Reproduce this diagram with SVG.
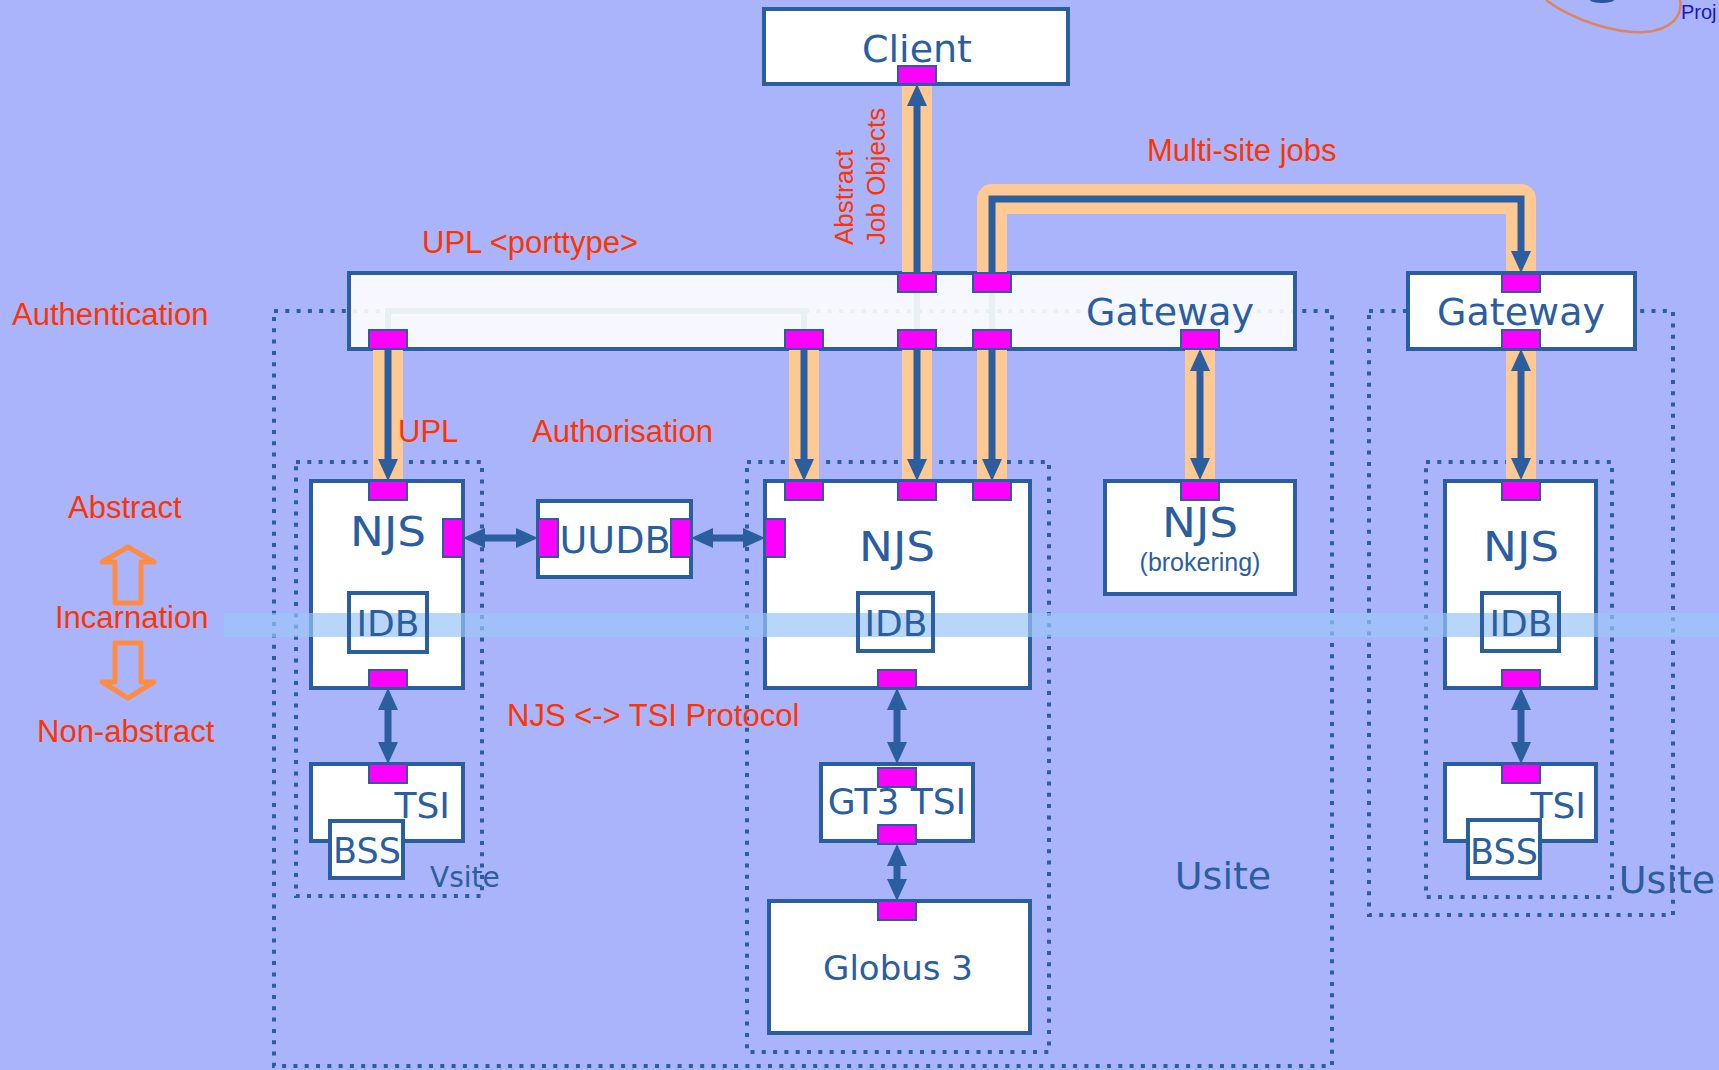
<svg xmlns="http://www.w3.org/2000/svg" width="1719" height="1070" viewBox="0 0 1719 1070">
<style>
.box{fill:#fff;stroke:#2b5e9f;stroke-width:4}
.port{fill:#ff00ff;stroke:#2b5e9f;stroke-width:2}
.band{fill:none;stroke:#ffc993;stroke-width:30;stroke-linejoin:round}
.conn{fill:none;stroke:#2b5e9f;stroke-width:7}
.dot{fill:none;stroke:#2b5e9f;stroke-width:4;stroke-dasharray:4 7.3}
.lbl{fill:#ff3300;font-family:"Liberation Sans",Arial,sans-serif;font-size:31px}
.rot{font-size:26px}
.t{fill:#2b5e9f;font-family:"DejaVu Sans",Verdana,sans-serif;text-anchor:middle}
.hollow{fill:none;stroke:#ff8c42;stroke-width:5;stroke-linejoin:round}
</style>
<defs>
<marker id="ah" viewBox="0 0 22 20" refX="7" refY="10" markerWidth="22" markerHeight="20" markerUnits="userSpaceOnUse" orient="auto-start-reverse">
<path d="M0,0 L22,10 L0,20 z" fill="#2b5e9f"/>
</marker>
</defs>
<rect width="1719" height="1070" fill="#aab4fb"/>

<!-- top right decoration -->
<path d="M1546,0 C1575,22 1620,34 1645,32 C1672,30 1683,15 1680,0" fill="none" stroke="#e0845a" stroke-width="2.5"/>
<ellipse cx="1602" cy="0" rx="12" ry="3" fill="#3050a0"/>
<text x="1681" y="19" font-family="Liberation Sans,Arial,sans-serif" font-size="20" fill="#1616c8">Proj</text>

<!-- dotted site boxes -->
<g id="usite-left"><rect class="dot" x="274" y="311" width="1058" height="755"/><text class="t" x="1223" y="889" font-size="38">Usite</text></g>
<g id="vsite-left"><rect class="dot" x="296" y="462" width="186" height="434"/><text class="t" x="430" y="887" font-size="28" style="text-anchor:start">Vsite</text></g>
<g id="vsite-mid"><rect class="dot" x="747" y="462" width="302" height="590"/></g>
<g id="usite-right"><rect class="dot" x="1369" y="311" width="304" height="604"/><text class="t" x="1667" y="893" font-size="38">Usite</text></g>
<g id="vsite-right"><rect class="dot" x="1426" y="462" width="186" height="435"/></g>

<!-- hidden connectors behind gateway -->
<g id="behind">
<path d="M388,349 V311 H804 V349" fill="none" stroke="#2b5e9f" stroke-width="6"/>
<path d="M917,273 V349 M992,273 V349" fill="none" stroke="#2b5e9f" stroke-width="6"/>
</g>

<g id="gateway-main">
<rect x="349" y="273" width="946" height="76" fill="#fff" fill-opacity="0.9" stroke="#2b5e9f" stroke-width="4"/>
<text class="t" x="1170" y="325" font-size="38">Gateway</text>
</g>

<g id="connectors">
<path class="band" d="M917,84 V273"/>
<path class="band" d="M992,273 V199 H1521 V273"/>
<path class="band" d="M388,349 V481 M804,349 V481 M917,349 V481 M992,349 V481 M1200,349 V480 M1521,349 V480"/>
<path class="conn" d="M917,273 V99" marker-end="url(#ah)"/>
<path class="conn" d="M992,273 V199 H1521 V258" marker-end="url(#ah)"/>
<path class="conn" d="M388,349 V466" marker-end="url(#ah)"/>
<path class="conn" d="M804,349 V466" marker-end="url(#ah)"/>
<path class="conn" d="M917,349 V466" marker-end="url(#ah)"/>
<path class="conn" d="M992,349 V466" marker-end="url(#ah)"/>
<path class="conn" d="M1200,364 V465" marker-start="url(#ah)" marker-end="url(#ah)"/>
<path class="conn" d="M1521,364 V465" marker-start="url(#ah)" marker-end="url(#ah)"/>
<path class="conn" d="M388,703 V749" marker-start="url(#ah)" marker-end="url(#ah)"/>
<path class="conn" d="M897,703 V749" marker-start="url(#ah)" marker-end="url(#ah)"/>
<path class="conn" d="M897,859 V886" marker-start="url(#ah)" marker-end="url(#ah)"/>
<path class="conn" d="M1521,703 V749" marker-start="url(#ah)" marker-end="url(#ah)"/>
<path class="conn" d="M478,538 H523" marker-start="url(#ah)" marker-end="url(#ah)"/>
<path class="conn" d="M706,538 H750" marker-start="url(#ah)" marker-end="url(#ah)"/>
</g>

<g id="gateway-ports">
<rect class="port" x="898" y="273" width="38" height="19"/>
<rect class="port" x="973" y="273" width="38" height="19"/>
<rect class="port" x="369" y="330" width="38" height="19"/>
<rect class="port" x="785" y="330" width="38" height="19"/>
<rect class="port" x="898" y="330" width="38" height="19"/>
<rect class="port" x="973" y="330" width="38" height="19"/>
<rect class="port" x="1181" y="330" width="38" height="19"/>
</g>

<g id="client">
<rect class="box" x="764" y="9" width="304" height="75"/>
<text class="t" x="917" y="62" font-size="38">Client</text>
<rect class="port" x="898" y="66" width="38" height="18"/>
</g>

<g id="gateway-right">
<rect class="box" x="1408" y="273" width="227" height="76"/>
<text class="t" x="1521" y="325" font-size="38">Gateway</text>
<rect class="port" x="1502" y="274" width="38" height="18"/>
<rect class="port" x="1502" y="330" width="38" height="19"/>
</g>

<g id="njs-left">
<rect class="box" x="311" y="481" width="152" height="207"/>
<text class="t" x="388" y="546" font-size="40" textLength="76" lengthAdjust="spacingAndGlyphs">NJS</text>
<rect class="port" x="369" y="481" width="38" height="19"/>
<rect class="port" x="443" y="519" width="20" height="38"/>
<rect class="port" x="369" y="670" width="38" height="18"/>
</g>

<g id="uudb">
<rect class="box" x="538" y="501" width="153" height="76"/>
<rect class="port" x="538" y="519" width="20" height="38"/>
<rect class="port" x="671" y="519" width="20" height="38"/>
<text class="t" x="615" y="553" font-size="38">UUDB</text>
</g>

<g id="njs-mid">
<rect class="box" x="765" y="481" width="265" height="207"/>
<text class="t" x="897" y="561" font-size="40" textLength="76" lengthAdjust="spacingAndGlyphs">NJS</text>
<rect class="port" x="785" y="481" width="38" height="19"/>
<rect class="port" x="898" y="481" width="38" height="19"/>
<rect class="port" x="973" y="481" width="38" height="19"/>
<rect class="port" x="765" y="519" width="20" height="38"/>
<rect class="port" x="878" y="670" width="38" height="18"/>
</g>

<g id="njs-brokering">
<rect class="box" x="1105" y="481" width="190" height="113"/>
<rect class="port" x="1181" y="481" width="38" height="19"/>
<text class="t" x="1200" y="537" font-size="40" textLength="76" lengthAdjust="spacingAndGlyphs">NJS</text>
<text x="1200" y="571" font-family="Liberation Sans,Arial,sans-serif" font-size="25" fill="#2b5e9f" text-anchor="middle">(brokering)</text>
</g>

<g id="njs-right">
<rect class="box" x="1445" y="481" width="151" height="207"/>
<text class="t" x="1521" y="561" font-size="40" textLength="76" lengthAdjust="spacingAndGlyphs">NJS</text>
<rect class="port" x="1502" y="481" width="38" height="19"/>
<rect class="port" x="1502" y="670" width="38" height="18"/>
</g>

<g id="tsi-left">
<rect class="box" x="311" y="764" width="152" height="77"/>
<rect class="port" x="369" y="764" width="38" height="19"/>
<text class="t" x="450" y="818" font-size="36" style="text-anchor:end">TSI</text>
</g>
<g id="bss-left">
<rect class="box" x="330" y="821" width="73" height="57"/>
<text class="t" x="367" y="863" font-size="35">BSS</text>
</g>

<g id="gt3-tsi">
<rect class="box" x="821" y="764" width="152" height="77"/>
<rect class="port" x="878" y="768" width="38" height="19"/>
<rect class="port" x="878" y="825" width="38" height="19"/>
<text class="t" x="897" y="814" font-size="36">GT3 TSI</text>
</g>

<g id="globus3">
<rect class="box" x="769" y="901" width="261" height="132"/>
<rect class="port" x="878" y="901" width="38" height="19"/>
<text class="t" x="898" y="980" font-size="34">Globus 3</text>
</g>

<g id="tsi-right">
<rect class="box" x="1445" y="764" width="151" height="77"/>
<rect class="port" x="1502" y="764" width="38" height="19"/>
<text class="t" x="1586" y="818" font-size="36" style="text-anchor:end">TSI</text>
</g>
<g id="bss-right">
<rect class="box" x="1468" y="820" width="72" height="58"/>
<text class="t" x="1504" y="864" font-size="35">BSS</text>
</g>

<!-- incarnation band -->
<rect id="incarnation-band" x="224" y="613" width="1495" height="24" fill="#9ac4f7" opacity="0.7"/>

<!-- IDB nodes (inside NJS boxes, drawn over the band) -->
<g id="idb-left">
<rect x="349" y="593" width="78" height="59" fill="none" stroke="#2b5e9f" stroke-width="4"/>
<text class="t" x="388" y="636" font-size="36">IDB</text>
</g>
<g id="idb-mid">
<rect x="858" y="593" width="75" height="58" fill="none" stroke="#2b5e9f" stroke-width="4"/>
<text class="t" x="896" y="636" font-size="36">IDB</text>
</g>
<g id="idb-right">
<rect x="1482" y="593" width="77" height="58" fill="none" stroke="#2b5e9f" stroke-width="4"/>
<text class="t" x="1521" y="636" font-size="36">IDB</text>
</g>

<g id="labels">
<text class="lbl" x="12" y="325">Authentication</text>
<text class="lbl" x="422" y="253">UPL &lt;porttype&gt;</text>
<text class="lbl" x="398" y="442">UPL</text>
<text class="lbl" x="532" y="442">Authorisation</text>
<text class="lbl" x="1147" y="161">Multi-site jobs</text>
<text class="lbl" x="507" y="726">NJS &lt;-&gt; TSI Protocol</text>
<text class="lbl" x="68" y="518">Abstract</text>
<text class="lbl" x="55" y="628">Incarnation</text>
<text class="lbl" x="37" y="742">Non-abstract</text>
<text class="lbl rot" transform="translate(853,245) rotate(-90)">Abstract</text>
<text class="lbl rot" transform="translate(885,245) rotate(-90)">Job Objects</text>
</g>
<g id="incarnation-arrows">
<path class="hollow" d="M128,547 L154,562 L141,562 L141,603 L115,603 L115,562 L102,562 Z"/>
<path class="hollow" d="M128,698 L154,682 L141,682 L141,643 L115,643 L115,682 L102,682 Z"/>
</g>
</svg>
